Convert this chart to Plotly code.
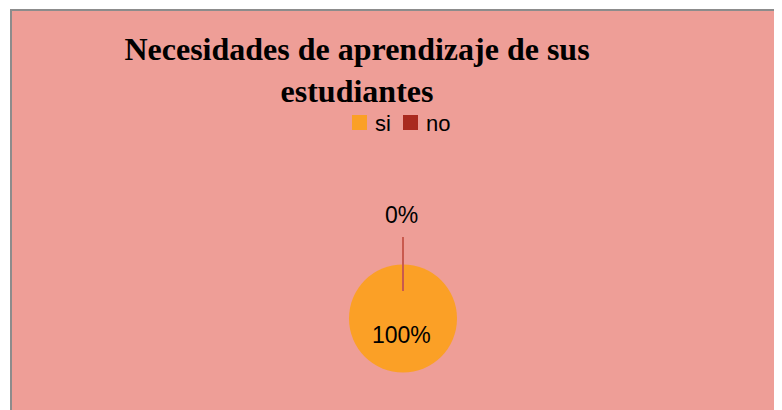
import plotly.graph_objects as go

categories = ["si", "no"]
values = [100, 0]
colors = ["#FBA026", "#A92A1F"]
title_text = "Necesidades de aprendizaje de sus<br>estudiantes"

W, H = 782, 410
OFF = 8  # page body margin offset


def px(x):
    return (x - OFF) / W


def py(y):
    return 1 - (y - OFF) / H


total = sum(values)
pcts = [f"{round(v / total * 100)}%" for v in values]

fig = go.Figure()
fig.add_trace(go.Pie(
    labels=categories, values=values, sort=False, direction="clockwise",
    marker=dict(colors=colors, line=dict(width=0)),
    textinfo="none", hoverinfo="label+percent", showlegend=False,
    domain=dict(x=[px(403 - 54), px(403 + 54)], y=[py(372.5), py(264.5)]),
))

shapes = [
    dict(type="rect", xref="paper", yref="paper", x0=px(11), x1=1.05, y0=-0.05, y1=py(10),
         fillcolor="#EE9E97", line=dict(color="#8C8C8C", width=2), layer="below"),
    dict(type="line", xref="paper", yref="paper", x0=px(403), x1=px(403),
         y0=py(237), y1=py(291), line=dict(color="#C95A4E", width=2)),
]
annotations = [
    dict(text=pcts[1], x=px(401), y=py(215), xref="paper", yref="paper", showarrow=False,
         yanchor="middle", font=dict(family="Liberation Sans, Arial", size=23, color="#000000")),
    dict(text=pcts[0], x=px(401), y=py(335), xref="paper", yref="paper", showarrow=False,
         yanchor="middle", font=dict(family="Liberation Sans, Arial", size=23, color="#000000")),
]

# legend (built from categories/colors)
leg_x = [352, 403]
for cat, col, lx in zip(categories, colors, leg_x):
    shapes.append(dict(type="rect", xref="paper", yref="paper", x0=px(lx), x1=px(lx + 15),
                       y0=py(130), y1=py(115), fillcolor=col, line=dict(width=0)))
    annotations.append(dict(text=cat, x=px(lx + 21), y=py(123), xref="paper", yref="paper",
                            xanchor="left", yanchor="middle", showarrow=False,
                            font=dict(family="Liberation Sans, Arial", size=22, color="#000000")))

fig.update_layout(
    width=W, height=H,
    margin=dict(l=0, r=0, t=0, b=0),
    paper_bgcolor="white",
    showlegend=False,
    title=dict(text=title_text, x=px(357), xanchor="center", y=py(60), yanchor="top",
               font=dict(family="Liberation Serif, Times New Roman", size=32, color="#000000",
                         weight="bold")),
    shapes=shapes,
    annotations=annotations,
)
fig.write_html("out.html")
